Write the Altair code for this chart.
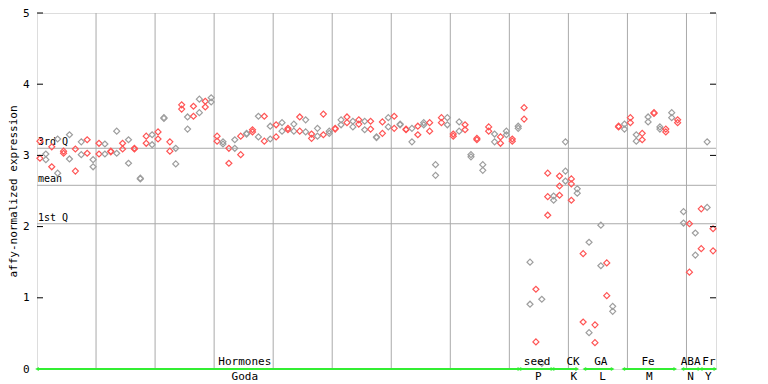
import altair as alt
import pandas as pd

# expression values, one pair (or triple) per sample position
expression = [
    [3.20, 2.96], [3.02, 2.94], [3.12, 2.84], [3.23, 2.75], [3.06, 3.03],
    [3.29, 2.95], [3.09, 2.78], [3.19, 3.01], [3.22, 3.03], [2.94, 2.84],
    [3.17, 3.02], [3.16, 3.02], [3.06, 3.05], [3.34, 3.03], [3.17, 3.09],
    [3.22, 2.89], [3.10, 3.09], [2.68, 2.67], [3.27, 3.17], [3.29, 3.15],
    [3.33, 3.23], [3.53, 3.52], [3.19, 3.06], [3.10, 2.88], [3.71, 3.65],
    [3.54, 3.37], [3.69, 3.55], [3.79, 3.60], [3.76, 3.68], [3.81, 3.75],
    [3.27, 3.20], [3.19, 3.16], [3.10, 2.89], [3.22, 3.10], [3.27, 3.01],
    [3.31, 3.30], [3.36, 3.33], [3.55, 3.26], [3.55, 3.20], [3.41, 3.23],
    [3.43, 3.26], [3.46, 3.34], [3.38, 3.36], [3.44, 3.34], [3.54, 3.34],
    [3.50, 3.33], [3.30, 3.24], [3.38, 3.27], [3.58, 3.29], [3.34, 3.31],
    [3.38, 3.37], [3.50, 3.43], [3.54, 3.46], [3.48, 3.40], [3.50, 3.44],
    [3.48, 3.36], [3.48, 3.37], [3.26, 3.25], [3.47, 3.31], [3.53, 3.40],
    [3.55, 3.38], [3.44, 3.43], [3.37, 3.36], [3.38, 3.19], [3.41, 3.29],
    [3.46, 3.43], [3.46, 3.34], [2.87, 2.72], [3.53, 3.46], [3.53, 3.43],
    [3.30, 3.27], [3.47, 3.34], [3.43, 3.36], [3.01, 2.98], [3.24, 3.22],
    [2.87, 2.79], [3.40, 3.34], [3.30, 3.19], [3.26, 3.17], [3.34, 3.29],
    [3.23, 3.20], [3.41, 3.38], [3.67, 3.51], [1.50, 0.91], [1.12, 0.38],
    [0.98, 0.08], [2.75, 2.42, 2.16], [2.43, 2.37], [2.71, 2.57, 2.44],
    [3.19, 2.78, 2.64], [2.67, 2.60, 2.37], [2.53, 2.47], [1.62, 0.66],
    [1.78, 0.51], [0.62, 0.37], [2.02, 1.45], [1.49, 1.03], [0.88, 0.81],
    [3.41, 3.40], [3.44, 3.37], [3.53, 3.46], [3.29, 3.20], [3.31, 3.22],
    [3.54, 3.47], [3.60, 3.59], [3.40, 3.37], [3.37, 3.33], [3.60, 3.53],
    [3.50, 3.46], [2.21, 2.05], [2.04, 1.36], [1.91, 1.60], [2.25, 1.69],
    [3.19, 2.27], [1.97, 1.66],
]

group_names = ["Hormones", "seed", "CK", "GA", "Fe", "ABA", "Fr"]
group_codes = ["Goda", "P", "K", "L", "M", "N", "Y"]
group_start = [-0.5, 81.2, 86.8, 92.2, 98.8, 108.8, 111.9]
group_end = [81.2, 86.8, 91.0, 97.0, 107.6, 111.7, 114.4]
group_label_pos = [34.7, 84.2, 90.3, 95.0, 103.0, 110.2, 113.3]
group_code_pos = [34.7, 84.4, 90.4, 95.3, 103.2, 110.2, 113.2]

quartile_labels = ["3rd Q", "mean", "1st Q"]
quartile_values = [3.10, 2.58, 2.04]

grid_positions = [9.5, 19.5, 29.5, 39.5, 49.5, 59.5, 69.5, 79.5, 89.5, 99.5, 109.5]
y_ticks = [0, 1, 2, 3, 4, 5]

W, H = 679, 356
FONT = "DejaVu Sans Mono"

rows = []
for i, vals in enumerate(expression):
    for v in vals:
        rows.append({"pos": i, "v": v, "c": "red" if i % 2 == 0 else "gray"})
pts_df = pd.DataFrame(rows)

xs = alt.Scale(domain=[-0.5, 114.5], nice=False, zero=False)
ys = alt.Scale(domain=[0, 5], nice=False, zero=False)

grid = alt.Chart(pd.DataFrame({"g": grid_positions})).mark_rule(
    color="#aaaaaa", strokeWidth=1
).encode(x=alt.X("g:Q", scale=xs, axis=None), y=alt.value(0), y2=alt.value(H))

qlines = alt.Chart(pd.DataFrame({"q": quartile_values, "lab": quartile_labels})).mark_rule(
    color="#aaaaaa", strokeWidth=1
).encode(
    y=alt.Y("q:Q", scale=ys,
            axis=alt.Axis(values=y_ticks, format="d", title="affy-normalized expression",
                          domain=False, ticks=False, grid=False, labelPadding=8,
                          labelFont=FONT, labelFontSize=11, labelColor="black",
                          titleFont=FONT, titleFontSize=11, titleFontWeight="normal",
                          titleColor="black", titlePadding=4)),
    x=alt.value(0), x2=alt.value(W),
)

qtext = alt.Chart(pd.DataFrame({"q": quartile_values, "lab": quartile_labels})).mark_text(
    align="left", baseline="bottom", dx=1, dy=-1, font=FONT, fontSize=10, color="black"
).encode(y=alt.Y("q:Q", scale=ys), x=alt.value(0), text="lab:N")

points = alt.Chart(pts_df).mark_point(
    shape="diamond", filled=False, size=36, strokeWidth=1.2, opacity=1
).encode(
    x=alt.X("pos:Q", scale=xs, axis=None),
    y=alt.Y("v:Q", scale=ys),
    color=alt.Color("c:N", scale=alt.Scale(domain=["red", "gray"], range=["#ff5555", "#9e9e9e"]), legend=None),
)

tick_df = pd.DataFrame({"t": y_ticks})
lticks = alt.Chart(tick_df).mark_rule(color="black").encode(
    y=alt.Y("t:Q", scale=ys), x=alt.value(0), x2=alt.value(6))
rticks = alt.Chart(tick_df).mark_rule(color="black").encode(
    y=alt.Y("t:Q", scale=ys), x=alt.value(W - 6), x2=alt.value(W))

grp_df = pd.DataFrame({
    "name": group_names, "code": group_codes, "s": group_start, "e": group_end,
    "lp": group_label_pos, "cp": group_code_pos,
})
green = "#33ee33"
seg = alt.Chart(grp_df).mark_rule(color=green, strokeWidth=2).encode(
    x=alt.X("s:Q", scale=xs), x2="e:Q", y=alt.value(H))
arr_l = alt.Chart(grp_df).mark_point(shape="triangle-left", filled=True, size=18, color=green, opacity=1).encode(
    x=alt.X("s:Q", scale=xs), y=alt.value(H))
arr_r = alt.Chart(grp_df).mark_point(shape="triangle-right", filled=True, size=18, color=green, opacity=1).encode(
    x=alt.X("e:Q", scale=xs), y=alt.value(H))
top_lab = alt.Chart(grp_df).mark_text(font=FONT, fontSize=11, color="black", baseline="middle").encode(
    x=alt.X("lp:Q", scale=xs), y=alt.value(H - 7), text="name:N")
bot_lab = alt.Chart(grp_df).mark_text(font=FONT, fontSize=11, color="black", baseline="middle").encode(
    x=alt.X("cp:Q", scale=xs), y=alt.value(H + 8), text="code:N")

chart = alt.layer(
    grid, qlines, qtext, points, lticks, rticks, seg, arr_l, arr_r, top_lab, bot_lab
).properties(
    width=W, height=H,
    autosize=alt.AutoSizeParams(type="none"),
    padding={"left": 29, "top": 5, "right": 40, "bottom": 15},
).configure_view(stroke="black", strokeWidth=1).configure(background="white")

chart.save("out.html", embed_options={"renderer": "svg", "actions": False})
